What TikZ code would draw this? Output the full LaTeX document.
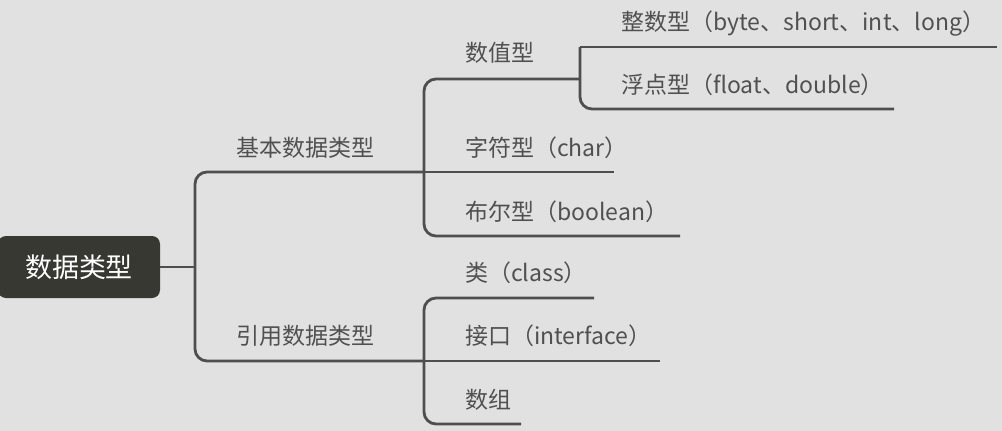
\documentclass[tikz,border=0pt]{standalone}
\usepackage{fontspec}
\newfontfamily\cjk{Noto Sans CJK SC}
\definecolor{bg}{HTML}{E1E1E1}
\definecolor{wire}{HTML}{4E4E4E}
\definecolor{ink}{HTML}{505050}
\definecolor{rootfill}{HTML}{383832}
\begin{document}
\begin{tikzpicture}[x=1pt,y=-1pt,
  branch/.style={draw=wire,line width=2.8pt,rounded corners=12pt,line cap=butt},
  topic/.style={anchor=west,inner sep=0pt,text=ink,font=\cjk\fontsize{23}{26}\selectfont},
  roottopic/.style={fill=rootfill,rounded corners=8pt,text=white,
    font=\cjk\fontsize{27}{30}\selectfont,minimum width=162pt,minimum height=62pt,inner sep=0pt}]
  \useasboundingbox[fill=bg] (0,0) rectangle (1002,431);

  % root
  \node[roottopic] (root) at (79,267) {数据类型};

  % topic labels
  \node[topic] (basic) at (236,148) {基本数据类型};
  \node[topic] (ref)   at (236,336) {引用数据类型};
  \node[topic] (num)   at (465,53)  {数值型};
  \node[topic] (chr)   at (465,148) {字符型（char）};
  \node[topic] (bool)  at (465,212) {布尔型（boolean）};
  \node[topic] (int)   at (621,24)  {整数型（byte、short、int、long）};
  \node[topic] (flt)   at (621,85)  {浮点型（float、double）};
  \node[topic] (cls)   at (465,273) {类（class）};
  \node[topic] (itf)   at (465,336) {接口（interface）};
  \node[topic] (arr)   at (465,400) {数组};

  % junctions and underline ends
  \coordinate (trunk)   at (195,267);
  \coordinate (basicJ)  at (424,172);
  \coordinate (refJ)    at (424,361);
  \coordinate (numJ)    at (580,79);
  \coordinate (chrE)    at (614,172);
  \coordinate (boolE)   at (680,236);
  \coordinate (intE)    at (997,47);
  \coordinate (fltE)    at (894,109);
  \coordinate (clsE)    at (594,298);
  \coordinate (itfE)    at (660,361);
  \coordinate (arrE)    at (521,424);

  % root to first level
  \draw[branch] (root.east) -- (trunk);
  \draw[branch] (basicJ) -- (trunk |- basicJ) -- (trunk |- refJ) -- (refJ);

  % basic types
  \draw[branch] (numJ) -- (basicJ |- numJ) -- (basicJ |- boolE) -- (boolE);
  \draw[branch] (basicJ) -- (chrE);
  \draw[branch] (numJ |- intE) -- (intE);
  \draw[branch] (intE -| numJ) -- (numJ |- fltE) -- (fltE);

  % reference types
  \draw[branch] (clsE) -- (refJ |- clsE) -- (refJ |- arrE) -- (arrE);
  \draw[branch] (refJ) -- (itfE);
\end{tikzpicture}
\end{document}
